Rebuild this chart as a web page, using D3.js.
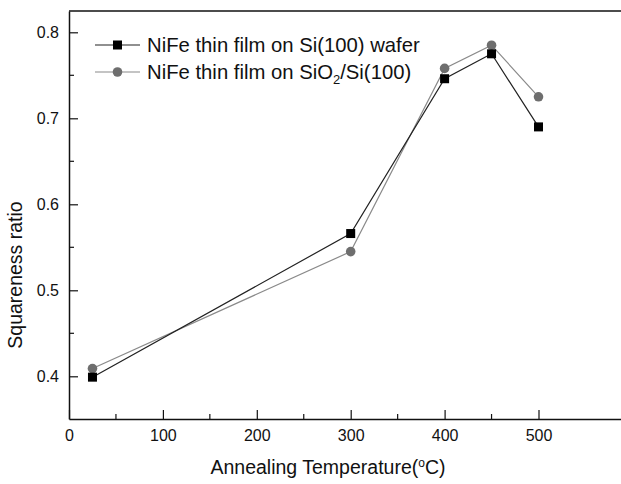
<!DOCTYPE html>
<html>
<head>
<meta charset="utf-8">
<script src="https://cdn.jsdelivr.net/npm/d3@7"></script>
<style>
  body { margin: 0; background: #fff; }
  text { font-family: "Liberation Sans", Arial, sans-serif; }
</style>
</head>
<body>
<div id="container"></div>
<script>
const WIDTH = 621;
const HEIGHT = 484;

// data
const temps = [25, 300, 400, 450, 500];
const siWafer = [0.399, 0.566, 0.746, 0.775, 0.690];
const sio2Wafer = [0.409, 0.545, 0.758, 0.785, 0.725];
const xTicks = [0, 100, 200, 300, 400, 500];
const yTicks = [0.4, 0.5, 0.6, 0.7, 0.8];

const plotLeft = 69, plotTop = 11, plotBottom = 419, plotRight = 621;

const svg = d3.select('#container')
  .append('svg')
  .attr('width', WIDTH)
  .attr('height', HEIGHT);

const x = d3.scaleLinear().domain([0, 100]).range([plotLeft, plotLeft + 93.9]);
x.domain([0, x.invert(plotRight)]).range([plotLeft, plotRight]);

const y = d3.scaleLinear().domain([0.4, 0.8]).range([376.3, 32.3]);
y.domain([y.invert(plotBottom), y.invert(plotTop)]).range([plotBottom, plotTop]);

// frame
svg.append('line')
  .attr('x1', plotLeft).attr('x2', plotRight).attr('y1', plotTop).attr('y2', plotTop)
  .style('stroke', '#111').style('stroke-width', 1.5);

const xAxis = svg.append('g')
  .attr('transform', `translate(0,${plotBottom})`)
  .call(d3.axisBottom(x).tickValues(xTicks).tickSize(-9).tickPadding(11).tickSizeOuter(0));
const xMinor = [50, 150, 250, 350, 450];
svg.append('g').selectAll('line').data(xMinor).join('line')
  .attr('x1', d => x(d)).attr('x2', d => x(d))
  .attr('y1', plotBottom).attr('y2', plotBottom - 5)
  .style('stroke', '#111').style('stroke-width', 1.2);

const yAxis = svg.append('g')
  .attr('transform', `translate(${plotLeft},0)`)
  .call(d3.axisLeft(y).tickValues(yTicks).tickSize(-9).tickPadding(10).tickSizeOuter(0)
    .tickFormat(d3.format('.1f')));
const yMinor = [0.45, 0.55, 0.65, 0.75];
svg.append('g').selectAll('line').data(yMinor).join('line')
  .attr('x1', plotLeft).attr('x2', plotLeft + 5)
  .attr('y1', d => y(d)).attr('y2', d => y(d))
  .style('stroke', '#111').style('stroke-width', 1.2);

[xAxis, yAxis].forEach(a => {
  a.select('.domain').style('stroke', '#111').style('stroke-width', 1.5);
  a.selectAll('.tick line').style('stroke', '#111').style('stroke-width', 1.2);
  a.selectAll('.tick text').style('font-size', '16px').style('fill', '#111')
    .style('font-family', '"Liberation Sans", Arial, sans-serif');
});

// series
const line = d3.line().x(d => x(d[0])).y(d => y(d[1]));
const s1 = temps.map((t, i) => [t, siWafer[i]]);
const s2 = temps.map((t, i) => [t, sio2Wafer[i]]);

svg.append('path').datum(s2).attr('d', line)
  .style('fill', 'none').style('stroke', '#8a8a8a').style('stroke-width', 1.2);
svg.append('path').datum(s1).attr('d', line)
  .style('fill', 'none').style('stroke', '#222').style('stroke-width', 1.2);

svg.append('g').selectAll('circle').data(s2).join('circle')
  .attr('cx', d => x(d[0])).attr('cy', d => y(d[1])).attr('r', 4.8)
  .style('fill', '#6e6e6e');
svg.append('g').selectAll('rect').data(s1).join('rect')
  .attr('x', d => x(d[0]) - 4.5).attr('y', d => y(d[1]) - 4.5)
  .attr('width', 9).attr('height', 9)
  .style('fill', '#000');

// legend
const legend = svg.append('g');
const rows = [
  { y: 45, stroke: '#222', fill: '#000', shape: 'rect' },
  { y: 72, stroke: '#8a8a8a', fill: '#6e6e6e', shape: 'circle' }
];
rows.forEach(r => {
  legend.append('line').attr('x1', 95).attr('x2', 140).attr('y1', r.y).attr('y2', r.y)
    .style('stroke', r.stroke).style('stroke-width', 1.2);
  if (r.shape === 'rect') {
    legend.append('rect').attr('x', 117.5 - 4.5).attr('y', r.y - 4.5)
      .attr('width', 9).attr('height', 9).style('fill', r.fill);
  } else {
    legend.append('circle').attr('cx', 117.5).attr('cy', r.y).attr('r', 4.8).style('fill', r.fill);
  }
});
legend.append('text').attr('x', 147).attr('y', 45).attr('dy', '0.35em')
  .style('font-size', '20.3px').style('fill', '#111')
  .text('NiFe thin film on Si(100) wafer');
const t2 = legend.append('text').attr('x', 147).attr('y', 72).attr('dy', '0.35em')
  .style('font-size', '20.3px').style('fill', '#111');
t2.append('tspan').text('NiFe thin film on SiO');
t2.append('tspan').attr('dy', 5).style('font-size', '13px').text('2');
t2.append('tspan').attr('dy', -5).text('/Si(100)');

// axis titles
const xt = svg.append('text').attr('x', 328).attr('y', 467).attr('dy', '0.35em')
  .attr('text-anchor', 'middle').style('font-size', '19.5px').style('fill', '#111');
xt.append('tspan').text('Annealing Temperature(');
xt.append('tspan').attr('dy', -7).style('font-size', '12px').text('o');
xt.append('tspan').attr('dy', 7).text('C)');

svg.append('text')
  .attr('transform', 'translate(15,275) rotate(-90)')
  .attr('dy', '0.35em')
  .attr('text-anchor', 'middle').style('font-size', '19.5px').style('fill', '#111')
  .text('Squareness ratio');
</script>
</body>
</html>
